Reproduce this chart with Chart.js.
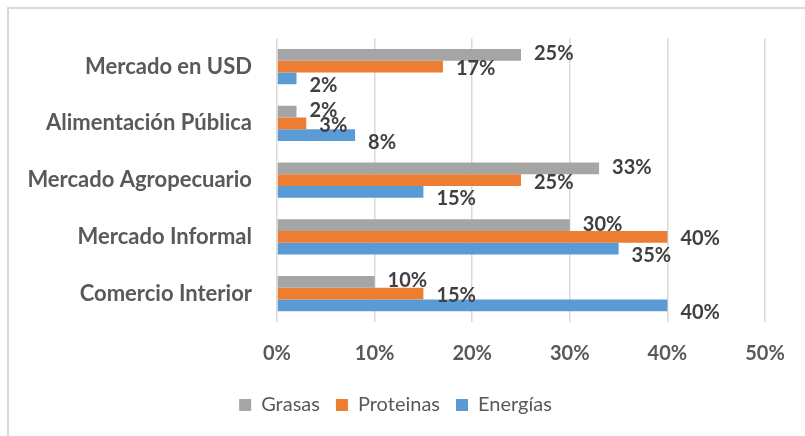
<!DOCTYPE html>
<html>
<head>
<meta charset="utf-8">
<script src="https://cdn.jsdelivr.net/npm/chart.js@4/dist/chart.umd.min.js"></script>
<style>
  body { margin: 0; background: #fff; }
  canvas { display: block; }
</style>
</head>
<body>
<canvas id="myChart" width="805" height="436"></canvas>
<script>
const categories = ['Mercado en USD', 'Alimentación Pública', 'Mercado Agropecuario', 'Mercado Informal', 'Comercio Interior'];
const grasas = [25, 2, 33, 30, 10];
const proteinas = [17, 3, 25, 40, 15];
const energias = [2, 8, 15, 35, 40];
const xTicks = [0, 10, 20, 30, 40, 50];

// nudges per series for the value labels (Excel moved them a bit)
var labelShiftY = [-1, 2, 7];

var frame = {
  id: 'frame',
  beforeDraw: function(chart) {
    var c = chart.ctx;
    c.save();
    c.strokeStyle = '#d9d9d9';
    c.lineWidth = 2;
    c.strokeRect(8, 8, 1000, 1000);
    c.restore();
  }
};

var valueLabels = {
  id: 'valueLabels',
  afterDatasetsDraw: function(chart) {
    var c = chart.ctx;
    c.save();
    c.font = 'bold 20px Lato';
    c.fillStyle = '#404040';
    c.textAlign = 'left';
    c.textBaseline = 'middle';
    chart.data.datasets.forEach(function(ds, i) {
      var meta = chart.getDatasetMeta(i);
      meta.data.forEach(function(bar, j) {
        c.fillText(ds.data[j] + '%', bar.x + 13, bar.y + labelShiftY[i]);
      });
    });
    c.restore();
  }
};

const ctx = document.getElementById('myChart');
const myChart = new Chart(ctx, {
  type: 'bar',
  data: {
    labels: categories,
    datasets: [
      { label: 'Grasas', data: grasas, backgroundColor: '#A5A5A5' },
      { label: 'Proteinas', data: proteinas, backgroundColor: '#ED7D31' },
      { label: 'Energías', data: energias, backgroundColor: '#5B9BD5' }
    ]
  },
  options: {
    indexAxis: 'y',
    responsive: false,
    animation: false,
    devicePixelRatio: 1,
    categoryPercentage: 0.62,
    barPercentage: 1,
    layout: { padding: { left: 0, right: 14, top: 38, bottom: 11 } },
    plugins: {
      legend: {
        position: 'bottom',
        labels: {
          boxWidth: 12,
          boxHeight: 12,
          padding: 16,
          color: '#595959',
          font: { family: 'Lato', size: 20 }
        }
      },
      tooltip: { enabled: false }
    },
    scales: {
      x: {
        min: 0,
        max: 50,
        afterBuildTicks: function(scale) {
          scale.ticks = xTicks.map(function(v) { return { value: v }; });
        },
        afterFit: function(scale) {
          scale.height = 57;
          scale.paddingRight = 40;
        },
        grid: { color: '#d9d9d9', lineWidth: 1.5, drawTicks: false },
        border: { display: false },
        ticks: {
          padding: 20,
          color: '#595959',
          font: { family: 'Lato', size: 20, weight: 'bold' },
          callback: function(v) { return v + '%'; }
        }
      },
      y: {
        afterFit: function(scale) { scale.width = 277; },
        grid: { display: false, drawTicks: false },
        border: { display: false },
        ticks: {
          padding: 25,
          color: '#595959',
          font: { family: 'Lato', size: 22, weight: 'bold' }
        }
      }
    }
  },
  plugins: [frame, valueLabels]
});
</script>
</body>
</html>
